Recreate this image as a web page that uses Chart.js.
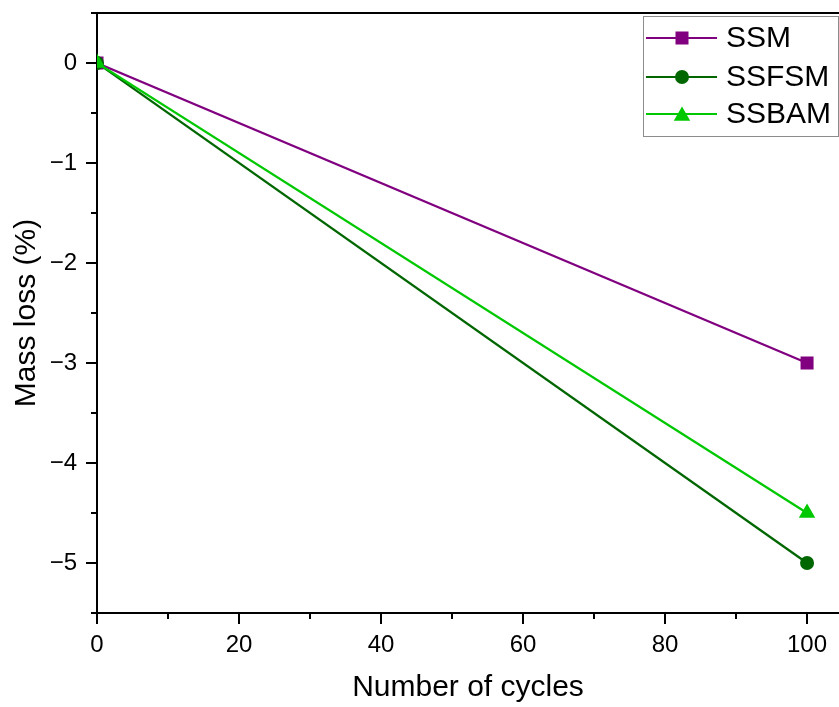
<!DOCTYPE html>
<html>
<head>
<meta charset="utf-8">
<title>Mass loss vs cycles</title>
<script src="https://cdn.jsdelivr.net/npm/chart.js@4/dist/chart.umd.min.js"></script>
<style>
  html, body { margin: 0; padding: 0; background: #fff; }
  #wrap { width: 839px; height: 707px; position: relative; }
</style>
</head>
<body>
<div id="wrap"><canvas id="massChart"></canvas></div>
<script>
// ── Data ──────────────────────────────────────────────────────
const cycles = [0, 100];
const ssm    = [0, -3];
const ssfsm  = [0, -5];
const ssbam  = [0, -4.5];

const xTicks = [0, 20, 40, 60, 80, 100];
const yTicks = [0, -1, -2, -3, -4, -5];

const FONT = "'Liberation Sans', Arial, sans-serif";
const toPoints = ys => cycles.map((x, i) => ({ x, y: ys[i] }));

const SERIES = [
  { label: 'SSM',   data: ssm,   color: '#800080', style: 'rect',     radius: 9.2 },
  { label: 'SSFSM', data: ssfsm, color: '#006600', style: 'circle',   radius: 7   },
  { label: 'SSBAM', data: ssbam, color: '#00c800', style: 'triangle', radius: 9.5 }
];

// ── Frame: top line, major/minor ticks, legend box ───────────
const framePlugin = {
  id: 'frame',
  afterDraw(chart) {
    const { ctx, chartArea: a, scales: { x, y } } = chart;
    ctx.save();
    ctx.strokeStyle = '#000';
    ctx.lineWidth = 2;

    // top border
    ctx.beginPath();
    ctx.moveTo(a.left - 6, a.top);
    ctx.lineTo(a.right, a.top);
    ctx.stroke();

    // x ticks (outward, below axis)
    xTicks.forEach(v => {
      const px = Math.round(x.getPixelForValue(v));
      ctx.beginPath(); ctx.moveTo(px, a.bottom); ctx.lineTo(px, a.bottom + 11); ctx.stroke();
      const m = x.getPixelForValue(v + 10);
      if (m < a.right) {
        ctx.beginPath(); ctx.moveTo(Math.round(m), a.bottom); ctx.lineTo(Math.round(m), a.bottom + 6); ctx.stroke();
      }
    });

    // y ticks (outward, left of axis)
    yTicks.forEach(v => {
      const py = Math.round(y.getPixelForValue(v));
      ctx.beginPath(); ctx.moveTo(a.left, py); ctx.lineTo(a.left - 11, py); ctx.stroke();
    });
    [-0.5, -1.5, -2.5, -3.5, -4.5, -5.5].forEach(v => {
      const py = Math.round(y.getPixelForValue(v));
      ctx.beginPath(); ctx.moveTo(a.left, py); ctx.lineTo(a.left - 6, py); ctx.stroke();
    });

    // legend
    const box = { x: 643.5, y: 16.5, w: 195, h: 120 };
    ctx.lineWidth = 1;
    ctx.strokeStyle = '#8c8c8c';
    ctx.fillStyle = '#fff';
    ctx.fillRect(box.x, box.y, box.w, box.h);
    ctx.strokeRect(box.x, box.y, box.w, box.h);

    const rows = [38, 77, 114];
    SERIES.forEach((s, i) => {
      const cy = rows[i];
      ctx.strokeStyle = s.color;
      ctx.lineWidth = 2;
      ctx.beginPath(); ctx.moveTo(646, cy); ctx.lineTo(717, cy); ctx.stroke();
      ctx.fillStyle = s.color;
      Chart.helpers.drawPoint(ctx, { pointStyle: s.style, radius: s.radius, borderWidth: 0, rotation: 0 }, 682, s.style === 'triangle' ? cy + 2 : cy);
      ctx.fillStyle = '#000';
      ctx.font = '30px ' + FONT;
      ctx.textAlign = 'left';
      ctx.textBaseline = 'middle';
      ctx.fillText(s.label, 726, cy + 1);
    });
    ctx.restore();
  }
};

new Chart(document.getElementById('massChart'), {
  type: 'scatter',
  data: {
    datasets: SERIES.map((s, i) => ({
      label: s.label,
      data: toPoints(s.data),
      showLine: true,
      borderColor: s.color,
      backgroundColor: s.color,
      borderWidth: 2.2,
      pointStyle: s.style,
      pointRadius: s.radius,
      pointHoverRadius: s.radius,
      pointBorderWidth: 0,
      order: SERIES.length - i
    }))
  },
  options: {
    responsive: true,
    maintainAspectRatio: false,
    animation: false,
    layout: { autoPadding: false, padding: { top: 13, right: 0, left: 0, bottom: 0 } },
    plugins: {
      legend: { display: false },
      tooltip: { enabled: false }
    },
    scales: {
      x: {
        type: 'linear',
        min: 0,
        max: 104.5,
        afterBuildTicks: s => { s.ticks = xTicks.map(v => ({ value: v })); },
        afterFit: s => { s.height = 94; s.paddingLeft = 0; s.paddingRight = 0; },
        grid: { display: false, drawTicks: false },
        border: { display: true, color: '#000', width: 2 },
        ticks: {
          color: '#000',
          padding: 18,
          maxRotation: 0,
          autoSkip: false,
          font: { family: FONT, size: 24 }
        },
        title: {
          display: true,
          text: 'Number of cycles',
          color: '#000',
          font: { family: FONT, size: 30 },
          padding: { top: 0, bottom: 1 }
        }
      },
      y: {
        type: 'linear',
        min: -5.5,
        max: 0.5,
        afterBuildTicks: s => { s.ticks = yTicks.map(v => ({ value: v })); },
        afterFit: s => { s.width = 97; s.paddingTop = 0; s.paddingBottom = 0; },
        grid: { display: false, drawTicks: false },
        border: { display: true, color: '#000', width: 2 },
        ticks: {
          color: '#000',
          padding: 20,
          autoSkip: false,
          font: { family: FONT, size: 24 },
          callback: v => String(v).replace('-', '\u2212')
        },
        title: {
          display: true,
          text: 'Mass loss (%)',
          color: '#000',
          font: { family: FONT, size: 30 },
          padding: { top: 9, bottom: 0 }
        }
      }
    }
  },
  plugins: [framePlugin]
});
</script>
</body>
</html>
